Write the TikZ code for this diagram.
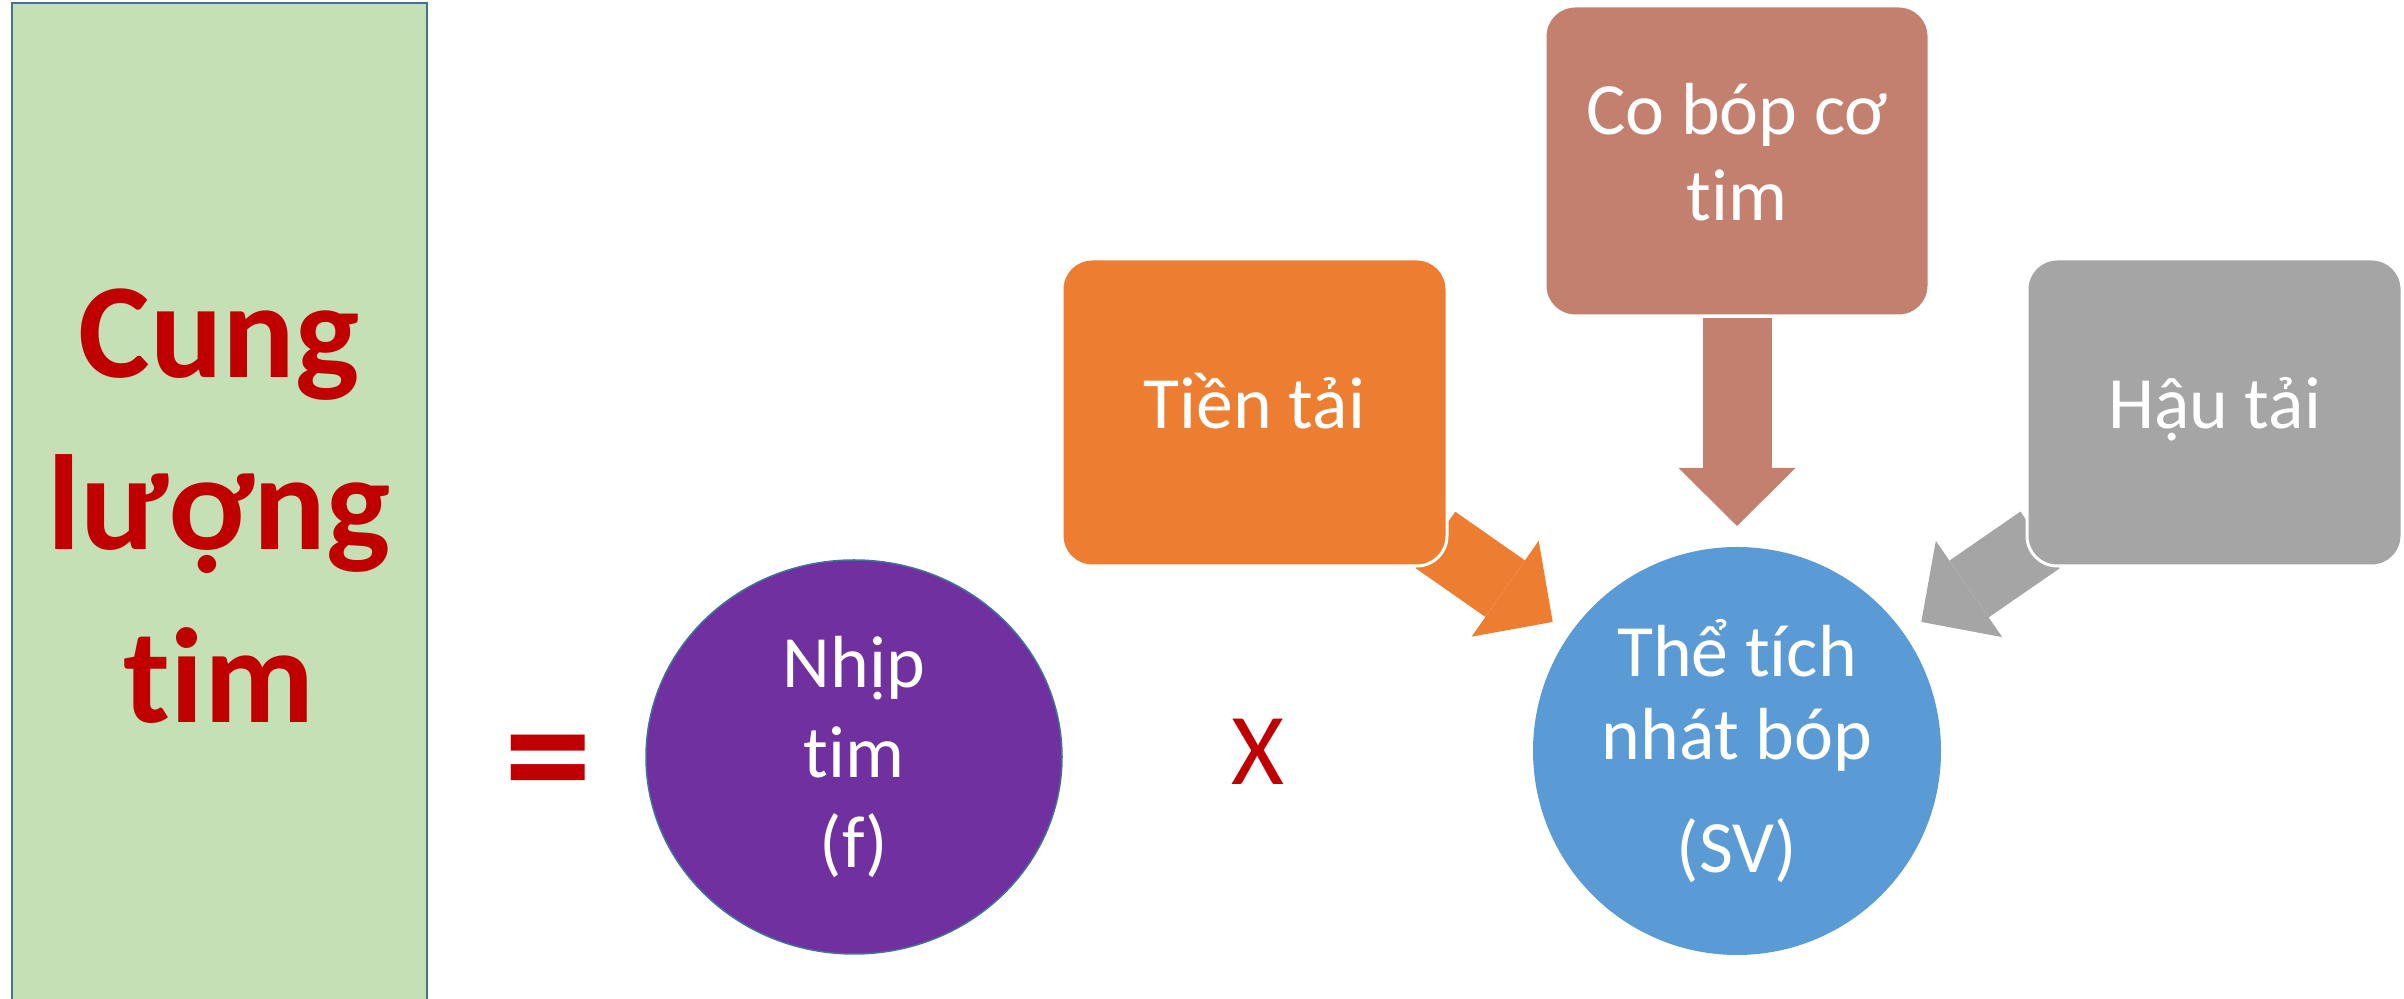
\documentclass[tikz,border=0pt]{standalone}
\usepackage{fontspec}
\setmainfont{Carlito}[Ligatures={NoCommon}]
\usepackage{xcolor}
\usepackage{tikz}
\usetikzlibrary{shapes.geometric,arrows.meta,backgrounds}
\definecolor{cungred}{HTML}{C00000}
\definecolor{cunggreen}{HTML}{C5E0B4}
\definecolor{cungborder}{HTML}{41719C}
\definecolor{nhippurple}{HTML}{7030A0}
\definecolor{tienorange}{HTML}{ED7D31}
\definecolor{cobopbrown}{HTML}{C4806F}
\definecolor{haugray}{HTML}{A5A5A5}
\definecolor{svblue}{HTML}{5B9BD5}
\tikzstyle{blockarrow} = [line width=0.69cm, -{Triangle[length=0.58cm,width=1.17cm,line width=0pt]}]
\tikzstyle{factorbox} = [rectangle, rounded corners=0.3cm, draw=white, line width=0.03cm, text=white, font=\fontsize{21}{24.5}\selectfont, align=center, inner sep=0pt]
\tikzstyle{factorball} = [text=white, font=\fontsize{21}{23.6}\selectfont, align=center, inner sep=0pt]

\begin{document}
\begin{tikzpicture}[scale=1]
\useasboundingbox (0,0) rectangle (24.04,9.99);
\draw[cungborder, line width=0.025cm, fill=cunggreen] (0.12,-0.2) rectangle (4.27,9.96);
\node[cungred, font=\bfseries\fontsize{38.5}{49}\selectfont, align=center, inner sep=0pt] (cung) at (2.19,4.93) {Cung\\lượng\\tim};
\node[cungred, font=\bfseries\fontsize{50}{50}\selectfont, inner sep=0pt] (eq) at (5.48,2.25) {=};
\node[factorball, ellipse, fill=nhippurple, draw=cungborder, line width=0.015cm, minimum width=4.16cm, minimum height=3.94cm, font=\fontsize{21}{25.6}\selectfont] (nhip) at (8.54,2.42) {Nhịp\\tim\\(f)};
\node[cungred, font=\fontsize{29}{29}\selectfont, inner sep=0pt] (times) at (12.58,2.47) {X};
\node[factorball, circle, fill=svblue, minimum size=4.08cm] (sv) at (17.37,2.48) {Thể tích\\nhát bóp\\[0.3cm](SV)};
\node[factorbox, fill=tienorange, minimum width=3.85cm, minimum height=3.07cm, text height=0.48cm, text depth=0.15cm] (tien) at (12.545,5.865) {Tiền tải};
\node[factorbox, fill=cobopbrown, minimum width=3.84cm, minimum height=3.10cm, text depth=0.18cm] (cobop) at (17.37,8.38) {Co bóp cơ\\tim};
\node[factorbox, fill=haugray, minimum width=3.75cm, minimum height=3.07cm, text height=0.48cm, text depth=0.15cm] (hau) at (22.145,5.865) {Hậu tải};
\begin{scope}[on background layer]
\draw[blockarrow, tienorange] ([shift={(-0.13,0.275)}]tien.south east) -- ([shift={(145:2.25)}]sv.center);
\draw[blockarrow, cobopbrown] ([yshift=-0.01cm]cobop.south) -- ([shift={(90:2.25)}]sv.center);
\draw[blockarrow, haugray] ([shift={(0.145,0.275)}]hau.south west) -- ([shift={(35:2.25)}]sv.center);
\end{scope}
\end{tikzpicture}
\end{document}
